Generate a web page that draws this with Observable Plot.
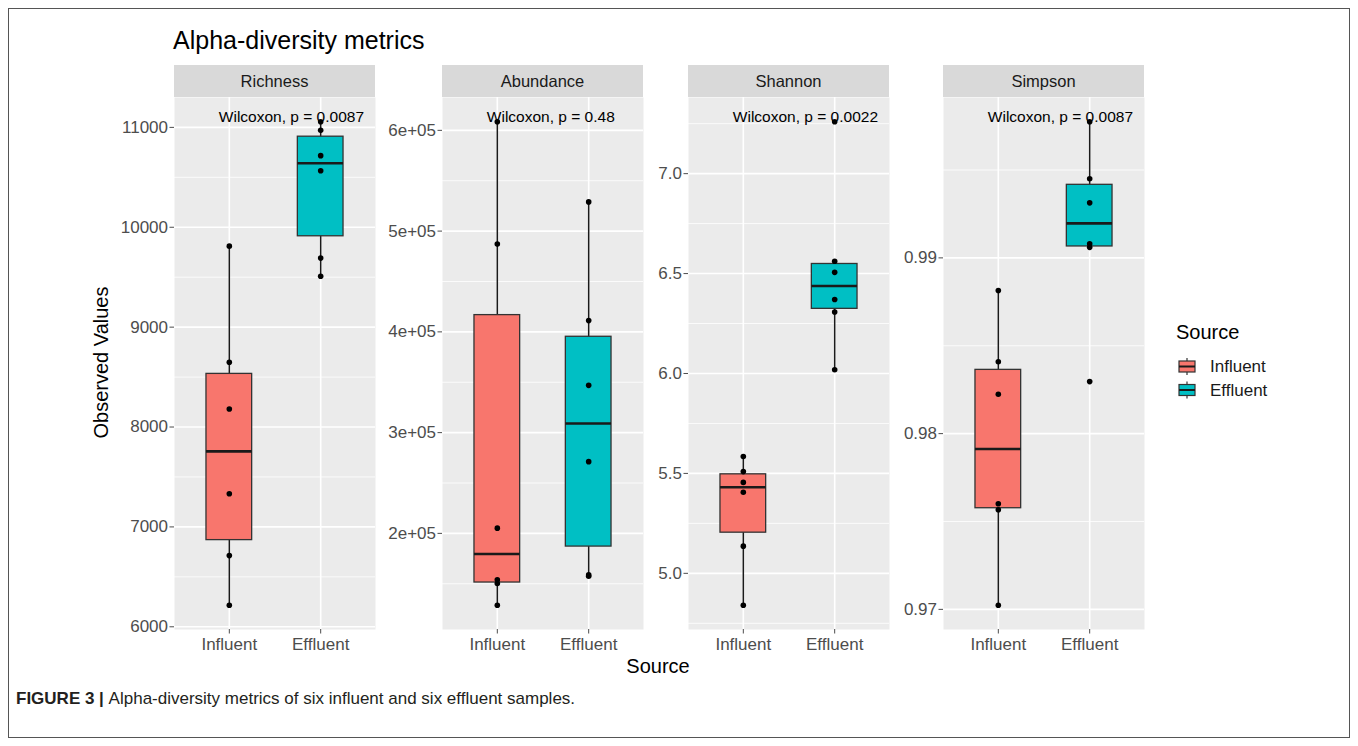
<!DOCTYPE html>
<html><head><meta charset="utf-8">
<script src="https://cdn.jsdelivr.net/npm/d3@7"></script>
<script src="https://cdn.jsdelivr.net/npm/@observablehq/plot@0.6"></script>
<style>
body{margin:0;background:#fff;font-family:"Liberation Sans",Arial,Helvetica,sans-serif;}
#fig{position:relative;width:1358px;height:746px;overflow:hidden;background:#fff;}
#fig > svg, #fig > div{position:absolute;}
</style></head><body><div id="fig"></div>
<script>
// ---------- data ----------
const categories = ["Influent", "Effluent"];
const metrics = ["Richness", "Abundance", "Shannon", "Simpson"];
const richnessInfluent = [6215, 6713, 7332, 8181, 8649, 9811];
const richnessEffluent = [9509, 9691, 10566, 10717, 10970, 11057];
const abundanceInfluent = [128600, 150300, 154000, 205200, 487100, 608600];
const abundanceEffluent = [157500, 158800, 271200, 346900, 411200, 529000];
const shannonInfluent = [4.840, 5.136, 5.406, 5.455, 5.509, 5.585];
const shannonEffluent = [6.019, 6.308, 6.370, 6.506, 6.562, 7.260];
const simpsonInfluent = [0.97023, 0.97567, 0.97601, 0.98224, 0.98409, 0.98814];
const simpsonEffluent = [0.98296, 0.99060, 0.99080, 0.99313, 0.99450, 0.99775];
const pValues = ["0.0087", "0.48", "0.0022", "0.0087"];
const richnessTicks = [6000, 7000, 8000, 9000, 10000, 11000];
const abundanceTicks = [2e5, 3e5, 4e5, 5e5, 6e5];
const shannonTicks = [5.0, 5.5, 6.0, 6.5, 7.0];
const simpsonTicks = [0.97, 0.98, 0.99];

// ---------- styles / layout ----------
const fillColors = ["#F8766D", "#00BFC4"];
const FONT = '"Liberation Sans", Arial, Helvetica, sans-serif';
const panelLefts = [174, 442, 688, 943];
const PW = 201, PH = 532, panelTop = 97, stripTop = 65, stripH = 32;
const ML = 64, MB = 40;

const series = [
  [richnessInfluent, richnessEffluent],
  [abundanceInfluent, abundanceEffluent],
  [shannonInfluent, shannonEffluent],
  [simpsonInfluent, simpsonEffluent]
];
const tickSets = [richnessTicks, abundanceTicks, shannonTicks, simpsonTicks];
const tickFormats = [
  d3.format("d"),
  d => `${Math.round(d / 1e5)}e+05`,
  d3.format(".1f"),
  d3.format(".2f")
];

function boxStats(vals) {
  const s = vals.slice().sort(d3.ascending);
  const q1 = d3.quantileSorted(s, 0.25), med = d3.quantileSorted(s, 0.5), q3 = d3.quantileSorted(s, 0.75);
  const iqr = q3 - q1;
  const lo = d3.min(s.filter(v => v >= q1 - 1.5 * iqr));
  const hi = d3.max(s.filter(v => v <= q3 + 1.5 * iqr));
  return {q1, med, q3, lo, hi};
}

const fig = document.getElementById("fig");

// overlay svg for titles, strips, legend, caption
const ov = d3.select(fig).append("svg")
  .attr("width", 1358).attr("height", 746)
  .style("left", "0px").style("top", "0px")
  .style("font-family", FONT);

ov.append("rect").attr("x", 8.5).attr("y", 8.5).attr("width", 1341).attr("height", 729)
  .attr("fill", "none").attr("stroke", "#555").attr("stroke-width", 1);

ov.append("text").attr("x", 173).attr("y", 49).attr("font-size", 25).attr("fill", "#000")
  .text("Alpha-diversity metrics");

metrics.forEach((m, i) => {
  ov.append("rect").attr("x", panelLefts[i]).attr("y", stripTop).attr("width", PW).attr("height", stripH)
    .attr("fill", "#D9D9D9");
  ov.append("text").attr("x", panelLefts[i] + PW / 2).attr("y", stripTop + stripH / 2)
    .attr("dy", "0.35em").attr("text-anchor", "middle").attr("font-size", 16.5).attr("fill", "#1A1A1A")
    .text(m);
});

// axis titles
ov.append("text").attr("x", 658).attr("y", 673).attr("text-anchor", "middle")
  .attr("font-size", 20).attr("fill", "#000").text("Source");
ov.append("text").attr("transform", "translate(108,362.5) rotate(-90)").attr("text-anchor", "middle")
  .attr("font-size", 20).attr("fill", "#000").text("Observed Values");

// legend
ov.append("text").attr("x", 1176).attr("y", 339).attr("font-size", 20).attr("fill", "#000").text("Source");
categories.forEach((c, i) => {
  const cy = 366.5 + i * 23.5, cx = 1187;
  const g = ov.append("g");
  g.append("line").attr("x1", cx).attr("x2", cx).attr("y1", cy - 8.5).attr("y2", cy + 8.5)
    .attr("stroke", "#333").attr("stroke-width", 1.2);
  g.append("rect").attr("x", cx - 8).attr("y", cy - 5.5).attr("width", 16).attr("height", 11)
    .attr("fill", fillColors[i]).attr("stroke", "#333").attr("stroke-width", 1.2);
  g.append("line").attr("x1", cx - 8).attr("x2", cx + 8).attr("y1", cy).attr("y2", cy)
    .attr("stroke", "#1a1a1a").attr("stroke-width", 2);
  ov.append("text").attr("x", 1210).attr("y", cy + 5.5).attr("font-size", 17).attr("fill", "#1A1A1A").text(c);
});

// caption
const cap = ov.append("text").attr("x", 16).attr("y", 704).attr("font-size", 17).attr("fill", "#231F20");
cap.append("tspan").attr("font-weight", "bold").text("FIGURE 3 | ");
cap.append("tspan").text("Alpha-diversity metrics of six influent and six effluent samples.");

// panels
metrics.forEach((m, i) => {
  const [inf, eff] = series[i];
  const all = inf.concat(eff);
  const mn = d3.min(all), mx = d3.max(all), pad = (mx - mn) * 0.05;
  const domain = [mn - pad, mx + pad];
  const ticks = tickSets[i];
  const step = ticks[1] - ticks[0];
  const minor = [ticks[0] - step / 2, ...ticks.map(t => t + step / 2)].filter(v => v >= domain[0] && v <= domain[1]);
  const boxes = series[i].map((vals, k) => ({x: k + 1, cat: categories[k], ...boxStats(vals)}));
  const points = series[i].flatMap((vals, k) => vals.map(v => ({x: k + 1, v})));
  const label = [{x: 1, y: mx, t: `Wilcoxon, p = ${pValues[i]}`}];

  const chart = Plot.plot({
    width: ML + PW, height: PH + MB,
    marginLeft: ML, marginRight: 0, marginTop: 0, marginBottom: MB,
    style: {background: "transparent", fontFamily: FONT, fontSize: "17px", overflow: "visible"},
    x: {domain: [0.4, 2.6]},
    y: {domain},
    color: {domain: categories, range: fillColors},
    marks: [
      Plot.frame({fill: "#EBEBEB"}),
      Plot.ruleY(minor, {stroke: "white", strokeWidth: 0.8}),
      Plot.ruleY(ticks, {stroke: "white", strokeWidth: 1.6}),
      Plot.ruleX([1, 2], {stroke: "white", strokeWidth: 1.6}),
      Plot.ruleX(boxes, {x: "x", y1: "lo", y2: "hi", stroke: "#1a1a1a", strokeWidth: 1.5}),
      Plot.rect(boxes, {x1: d => d.x - 0.25, x2: d => d.x + 0.25, y1: "q1", y2: "q3", fill: "cat", stroke: "#333", strokeWidth: 1.3}),
      Plot.ruleY(boxes, {y: "med", x1: d => d.x - 0.25, x2: d => d.x + 0.25, stroke: "#1a1a1a", strokeWidth: 2.6}),
      Plot.dot(points, {x: "x", y: "v", r: 2.8, fill: "black", stroke: null}),
      Plot.text(label, {x: "x", y: "y", text: "t", textAnchor: "start", lineAnchor: "bottom", dx: -10.5, fontSize: 15.5, fill: "black"}),
      Plot.axisX({ticks: [1, 2], tickFormat: d => categories[d - 1], tickSize: 4.5, tickPadding: 4, label: null, color: "#4D4D4D", fontSize: 17}),
      Plot.axisY({ticks, tickFormat: tickFormats[i], tickSize: 4.5, tickPadding: 2, label: null, color: "#4D4D4D", fontSize: 17})
    ]
  });
  chart.style.position = "absolute";
  chart.style.left = (panelLefts[i] - ML) + "px";
  chart.style.top = panelTop + "px";
  chart.style.maxWidth = "none";
  fig.appendChild(chart);
});
</script></body></html>
